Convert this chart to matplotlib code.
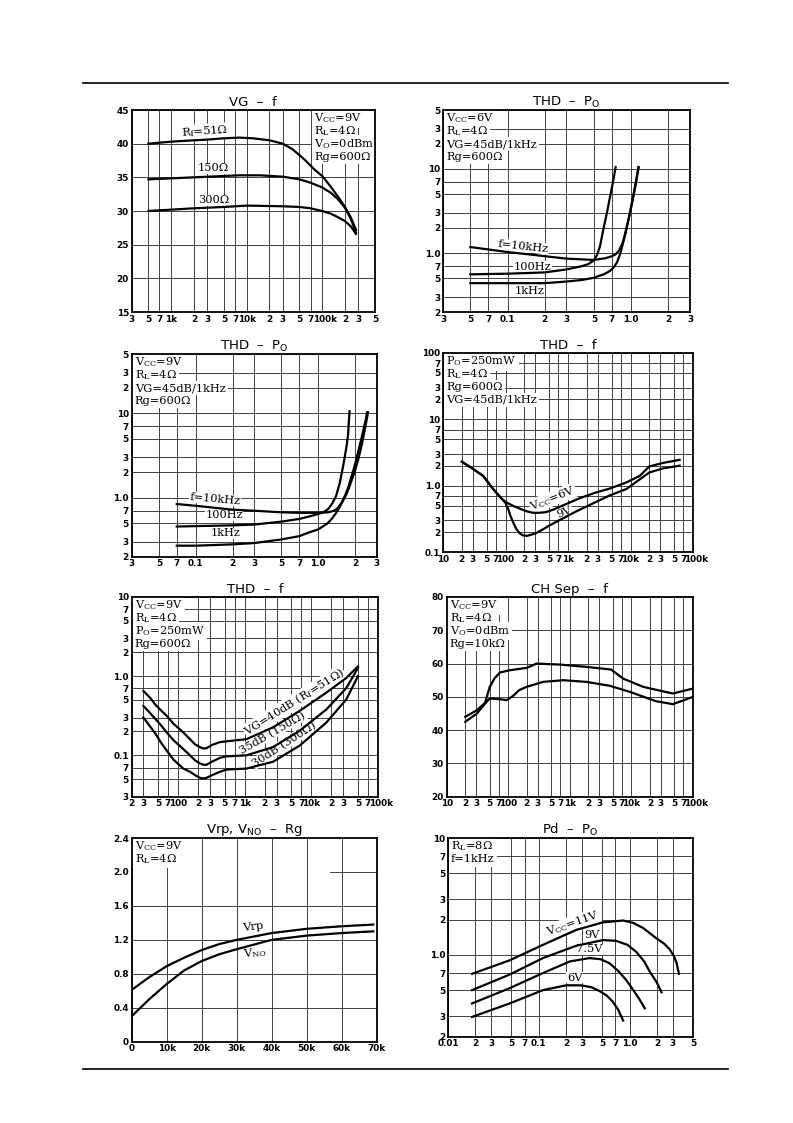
import matplotlib
matplotlib.use("Agg")
import matplotlib.pyplot as plt
from matplotlib.lines import Line2D
from matplotlib.transforms import ScaledTranslation

plt.rcParams['font.family'] = ['DejaVu Sans']
plt.rcParams['mathtext.fontset'] = 'dejavuserif'

W, H = 793, 1123

# ---------------- data ----------------
# VG - f
vg_f51 = [500, 1000, 2000, 3000, 5000, 8000, 12000, 20000, 30000, 40000, 50000, 60000, 80000,
          100000, 130000, 160000, 200000, 240000, 280000]
vg_51 = [40.0, 40.3, 40.5, 40.6, 40.8, 40.9, 40.8, 40.5, 40.0, 39.2, 38.3, 37.5, 36.1,
         35.2, 33.6, 32.2, 30.6, 29.0, 27.2]
vg_f150 = [500, 1000, 2000, 5000, 8000, 15000, 30000, 50000, 70000, 100000, 130000, 160000,
           200000, 240000, 280000]
vg_150 = [34.7, 34.85, 35.0, 35.2, 35.3, 35.3, 35.1, 34.7, 34.2, 33.5, 32.7, 31.8, 30.5, 28.8, 26.8]
vg_f300 = [500, 1000, 2000, 5000, 10000, 30000, 50000, 70000, 100000, 130000, 160000, 200000,
           240000, 280000]
vg_300 = [30.0, 30.2, 30.4, 30.6, 30.8, 30.7, 30.6, 30.4, 30.0, 29.6, 29.1, 28.5, 27.7, 26.6]

# THD - Po, VCC=6V
p6_10k = [0.05, 0.1, 0.2, 0.3, 0.5, 0.62, 0.7, 0.75, 0.8, 0.85, 0.9, 0.95, 1.0, 1.05, 1.1, 1.15]
t6_10k = [1.18, 1.03, 0.92, 0.86, 0.83, 0.87, 0.92, 0.97, 1.08, 1.3, 1.7, 2.45, 3.5, 5.0, 7.2, 10.5]
p6_100 = [0.05, 0.1, 0.2, 0.3, 0.4, 0.45, 0.5, 0.53, 0.56, 0.6, 0.64, 0.67, 0.71, 0.75]
t6_100 = [0.56, 0.57, 0.59, 0.64, 0.70, 0.74, 0.82, 0.95, 1.2, 2.0, 3.1, 4.4, 6.7, 10.5]
p6_1k = [0.05, 0.1, 0.2, 0.3, 0.4, 0.5, 0.6, 0.67, 0.72, 0.77, 0.82, 0.87, 0.91, 0.95,
         1.0, 1.05, 1.1, 1.15]
t6_1k = [0.44, 0.44, 0.44, 0.46, 0.48, 0.51, 0.56, 0.61, 0.67, 0.78, 1.0, 1.4, 1.9, 2.45,
         3.5, 5.0, 7.2, 10.5]

# THD - Po, VCC=9V
p9_10k = [0.07, 0.1, 0.2, 0.3, 0.5, 0.7, 1.0, 1.2, 1.35, 1.45, 1.55, 1.65, 1.75, 1.85,
          1.95, 2.05, 2.15, 2.25, 2.35, 2.45, 2.5]
t9_10k = [0.84, 0.80, 0.72, 0.70, 0.67, 0.66, 0.66, 0.67, 0.70, 0.76, 0.87, 1.05, 1.3, 1.7,
          2.2, 2.9, 3.8, 5.0, 6.6, 8.5, 10.2]
p9_100 = [0.07, 0.1, 0.2, 0.3, 0.5, 0.7, 0.85, 1.0, 1.1, 1.2, 1.3, 1.4, 1.5, 1.6, 1.7, 1.75, 1.8]
t9_100 = [0.455, 0.46, 0.47, 0.48, 0.52, 0.56, 0.60, 0.64, 0.67, 0.73, 0.85, 1.05, 1.5, 2.4,
          4.0, 5.5, 10.5]
p9_1k = [0.07, 0.1, 0.2, 0.3, 0.5, 0.7, 0.85, 1.0, 1.2, 1.3, 1.4, 1.5, 1.6, 1.7, 1.8, 1.9,
         2.0, 2.1, 2.2, 2.3, 2.4, 2.55]
t9_1k = [0.27, 0.27, 0.28, 0.29, 0.32, 0.35, 0.39, 0.42, 0.50, 0.57, 0.66, 0.78, 0.93, 1.1,
         1.36, 1.7, 2.1, 2.7, 3.5, 4.7, 6.4, 10.2]

# THD - f, Po=250mW
thf_f6 = [20, 30, 44, 60, 70, 85, 100, 130, 170, 220, 275, 350, 450, 600, 940, 1500, 2800,
          4600, 8600, 14000, 20000, 33000, 61000]
thf_6 = [2.3, 1.8, 1.4, 0.95, 0.8, 0.65, 0.57, 0.5, 0.45, 0.41, 0.39, 0.39, 0.40, 0.44, 0.53,
         0.64, 0.79, 0.9, 1.12, 1.4, 1.95, 2.2, 2.45]
thf_f9 = [20, 30, 44, 60, 70, 85, 100, 110, 120, 135, 150, 170, 190, 220, 245, 300, 400, 500,
          1360, 4600, 8600, 20000, 33000, 61000]
thf_9 = [2.3, 1.8, 1.4, 0.95, 0.8, 0.65, 0.55, 0.45, 0.35, 0.27, 0.22, 0.19, 0.178, 0.175,
         0.18, 0.19, 0.22, 0.25, 0.41, 0.71, 0.89, 1.58, 1.82, 2.0]

# THD - f, VCC=9V, three gains
tg_f = [30, 38, 45, 55, 67, 85, 119, 150, 180, 211, 240, 266, 320, 424, 530, 1060, 2660,
        6700, 16800, 33500, 50000]
tg_40 = [0.65, 0.53, 0.44, 0.37, 0.316, 0.25, 0.195, 0.16, 0.137, 0.127, 0.122, 0.123, 0.135,
         0.147, 0.15, 0.16, 0.226, 0.365, 0.62, 0.95, 1.33]
tg_35 = [0.42, 0.34, 0.29, 0.24, 0.195, 0.155, 0.12, 0.10, 0.086, 0.079, 0.076, 0.076, 0.083,
         0.093, 0.097, 0.10, 0.127, 0.205, 0.38, 0.71, 1.27]
tg_30 = [0.30, 0.23, 0.19, 0.145, 0.115, 0.088, 0.068, 0.062, 0.056, 0.052, 0.051, 0.052, 0.056,
         0.062, 0.066, 0.068, 0.083, 0.133, 0.26, 0.51, 1.0]

# CH Sep - f
cs_fa = [20, 31, 42, 50, 60, 73, 106, 198, 289, 685, 1860, 4700, 7300, 15600, 30000, 47000, 100000]
cs_a = [44, 46, 48.2, 53, 55.6, 57.3, 58, 58.7, 60, 59.7, 59, 58.2, 55.5, 53, 51.8, 51, 52.5]
cs_fb = [20, 31, 42, 50, 73, 94, 120, 150, 198, 368, 780, 1860, 4500, 9400, 25000, 47000, 100000]
cs_b = [42.5, 45, 48, 49.5, 49.3, 49.0, 50.3, 52.0, 53, 54.5, 55, 54.5, 53.3, 51.5, 48.7, 47.8, 50]

# Vrp, VNO - Rg
rg_k = [0, 5, 10, 15, 20, 25, 30, 40, 50, 60, 69]
vrp = [0.61, 0.76, 0.89, 0.99, 1.08, 1.15, 1.20, 1.28, 1.33, 1.36, 1.38]
vno = [0.30, 0.50, 0.68, 0.84, 0.95, 1.03, 1.09, 1.20, 1.25, 1.28, 1.30]

# Pd - Po
pd_p11 = [0.0184, 0.0478, 0.111, 0.26, 0.51, 0.85, 1.1, 1.41, 1.97, 2.4, 2.76, 3.1, 3.3, 3.5]
pd_11 = [0.69, 0.90, 1.22, 1.64, 1.9, 1.97, 1.88, 1.70, 1.39, 1.25, 1.12, 0.97, 0.85, 0.69]
pd_p9 = [0.0184, 0.0478, 0.111, 0.26, 0.51, 0.71, 0.95, 1.19, 1.45, 1.67, 2.0, 2.25]
pd_9 = [0.50, 0.68, 0.94, 1.2, 1.34, 1.32, 1.22, 1.06, 0.88, 0.72, 0.58, 0.48]
pd_p75 = [0.0184, 0.0478, 0.111, 0.22, 0.36, 0.48, 0.6, 0.75, 0.92, 1.1, 1.28, 1.47]
pd_75 = [0.385, 0.52, 0.70, 0.88, 0.94, 0.92, 0.85, 0.73, 0.61, 0.50, 0.42, 0.35]
pd_p6 = [0.0184, 0.0478, 0.111, 0.2, 0.29, 0.38, 0.47, 0.56, 0.65, 0.75, 0.85]
pd_6 = [0.295, 0.385, 0.5, 0.55, 0.55, 0.53, 0.49, 0.45, 0.40, 0.34, 0.275]

# tick positions / labels
f_3_500k = [300, 500, 700, 1e3, 2e3, 3e3, 5e3, 7e3, 1e4, 2e4, 3e4, 5e4, 7e4, 1e5, 2e5, 3e5, 5e5]
f_3_500k_lab = ['3', '5', '7', '1k', '2', '3', '5', '7', '10k', '2', '3', '5', '7', '100k', '2', '3', '5']
po_ticks = [0.03, 0.05, 0.07, 0.1, 0.2, 0.3, 0.5, 0.7, 1, 2, 3]
po_lab = ['3', '5', '7', '0.1', '2', '3', '5', '7', '1.0', '2', '3']
thd_ticks = [0.2, 0.3, 0.5, 0.7, 1, 2, 3, 5, 7, 10, 20, 30, 50]
thd_lab = ['2', '3', '5', '7', '1.0', '2', '3', '5', '7', '10', '2', '3', '5']
f_10_100k = [10, 20, 30, 50, 70, 100, 200, 300, 500, 700, 1e3, 2e3, 3e3, 5e3, 7e3, 1e4, 2e4, 3e4, 5e4, 7e4, 1e5]
f_10_100k_lab = ['10', '2', '3', '5', '7', '100', '2', '3', '5', '7', '1k', '2', '3', '5', '7', '10k',
                 '2', '3', '5', '7', '100k']
thd2_ticks = [0.1, 0.2, 0.3, 0.5, 0.7, 1, 2, 3, 5, 7, 10, 20, 30, 50, 70, 100]
thd2_lab = ['0.1', '2', '3', '5', '7', '1.0', '2', '3', '5', '7', '10', '2', '3', '5', '7', '100']
thd3_ticks = [0.03, 0.05, 0.07, 0.1, 0.2, 0.3, 0.5, 0.7, 1, 2, 3, 5, 7, 10]
thd3_lab = ['3', '5', '7', '0.1', '2', '3', '5', '7', '1.0', '2', '3', '5', '7', '10']
pdx_ticks = [0.01, 0.02, 0.03, 0.05, 0.07, 0.1, 0.2, 0.3, 0.5, 0.7, 1, 2, 3, 5]
pdx_lab = ['0.01', '2', '3', '5', '7', '0.1', '2', '3', '5', '7', '1.0', '2', '3', '5']
pdy_ticks = [0.2, 0.3, 0.5, 0.7, 1, 2, 3, 5, 7, 10]
pdy_lab = ['2', '3', '5', '7', '1.0', '2', '3', '5', '7', '10']

fig = plt.figure(figsize=(W / 100, H / 100), dpi=100)


def make_ax(l, t, r, b):
    ax = fig.add_axes([l / W, 1 - b / H, (r - l) / W, (b - t) / H])
    ax.hpx = b - t
    return ax


def setup(ax, title, xlim, xt, xl, ylim, yt, yl, xlog=True, ylog=True):
    if xlog:
        ax.set_xscale('log')
    if ylog:
        ax.set_yscale('log')
    ax.set_xlim(xlim)
    ax.set_ylim(ylim)
    ax.set_xticks(xt, xl)
    ax.set_yticks(yt, yl)
    ax.minorticks_off()
    ax.tick_params(length=0, pad=2, labelsize=6.4)
    for lab in ax.get_xticklabels() + ax.get_yticklabels():
        lab.set_fontweight('bold')
    # "100k" sits just right of the "7" on the datasheet
    for lab, s in zip(ax.get_xticklabels(), xl):
        if s == '100k':
            lab.set_transform(lab.get_transform()
                              + ScaledTranslation(3 / 100, 0, fig.dpi_scale_trans))
    ax.grid(True, color='0.25', lw=0.7)
    for s in ax.spines.values():
        s.set_linewidth(1.3)
    ax.set_title(title, fontsize=9.5, pad=3)


def note(ax, lines, x=0.012, first_px=11.5, step_px=12.8):
    # condition block, one line at a time (datasheet spacing)
    for i, s in enumerate(lines):
        y = 1 - (first_px + i * step_px) / ax.hpx
        ax.text(x, y, s, transform=ax.transAxes, ha='left', va='baseline',
                fontsize=8.2, family='DejaVu Serif',
                bbox=dict(fc='white', ec='none', pad=1.6), zorder=2.4)


def label(ax, x, y, s, rot=0):
    ax.text(x, y, s, transform=ax.transAxes, ha='center', va='center', rotation=rot,
            fontsize=8.2, family='DejaVu Serif',
            bbox=dict(fc='white', ec='none', pad=0.4), zorder=2.4)


lw = 1.6

# 1. VG - f
ax = make_ax(131.7, 110, 375, 312)
setup(ax, 'VG  –  f', (300, 5e5), f_3_500k, f_3_500k_lab, (15, 45),
      [15, 20, 25, 30, 35, 40, 45], ['15', '20', '25', '30', '35', '40', '45'], ylog=False)
ax.plot(vg_f51, vg_51, 'k', lw=lw, zorder=3)
ax.plot(vg_f150, vg_150, 'k', lw=lw, zorder=3)
ax.plot(vg_f300, vg_300, 'k', lw=lw, zorder=3)
label(ax, 0.30, 0.895, r'R$_\mathrm{f}$=51Ω', rot=4)
label(ax, 0.336, 0.711, '150Ω')
label(ax, 0.336, 0.554, '300Ω')
note(ax, [r'V$_\mathrm{CC}$=9V', r'R$_\mathrm{L}$=4Ω', r'V$_\mathrm{O}$=0dBm', 'Rg=600Ω'], x=0.75)

# 2. THD - Po (6V)
ax = make_ax(443, 110, 690, 312)
setup(ax, r'THD  –  P$_\mathsf{O}$', (0.03, 3), po_ticks, po_lab, (0.2, 50), thd_ticks, thd_lab)
ax.plot(p6_10k, t6_10k, 'k', lw=lw, zorder=3)
ax.plot(p6_100, t6_100, 'k', lw=lw, zorder=3)
ax.plot(p6_1k, t6_1k, 'k', lw=lw, zorder=3)
note(ax, [r'V$_\mathrm{CC}$=6V', r'R$_\mathrm{L}$=4Ω', 'VG=45dB/1kHz', 'Rg=600Ω'])
label(ax, 0.324, 0.325, 'f=10kHz', rot=-6)
label(ax, 0.362, 0.223, '100Hz')
label(ax, 0.351, 0.104, '1kHz')

# 3. THD - Po (9V)
ax = make_ax(131.7, 354, 376.7, 556.7)
setup(ax, r'THD  –  P$_\mathsf{O}$', (0.03, 3), po_ticks, po_lab, (0.2, 50), thd_ticks, thd_lab)
ax.plot(p9_10k, t9_10k, 'k', lw=lw, zorder=3)
ax.plot(p9_100, t9_100, 'k', lw=lw, zorder=3)
ax.plot(p9_1k, t9_1k, 'k', lw=lw, zorder=3)
note(ax, [r'V$_\mathrm{CC}$=9V', r'R$_\mathrm{L}$=4Ω', 'VG=45dB/1kHz', 'Rg=600Ω'])
label(ax, 0.340, 0.285, 'f=10kHz', rot=-5)
label(ax, 0.377, 0.206, '100Hz')
label(ax, 0.385, 0.115, '1kHz')

# 4. THD - f (Po=250mW)
ax = make_ax(443, 353, 693, 552)
setup(ax, 'THD  –  f', (10, 1e5), f_10_100k, f_10_100k_lab, (0.1, 100), thd2_ticks, thd2_lab)
ax.plot(thf_f6, thf_6, 'k', lw=lw, zorder=3)
ax.plot(thf_f9, thf_9, 'k', lw=lw, zorder=3)
note(ax, [r'P$_\mathrm{O}$=250mW', r'R$_\mathrm{L}$=4Ω', 'Rg=600Ω', 'VG=45dB/1kHz'])
label(ax, 0.44, 0.27, r'V$_\mathrm{CC}$=6V', rot=22)
label(ax, 0.487, 0.20, '9V', rot=22)

# 5. THD - f (VCC=9V)
ax = make_ax(131.7, 597, 378, 796.7)
setup(ax, 'THD  –  f', (20, 1e5), f_10_100k[1:], f_10_100k_lab[1:],
      (0.03, 10), thd3_ticks, thd3_lab)
ax.plot(tg_f, tg_40, 'k', lw=lw, zorder=3)
ax.plot(tg_f, tg_35, 'k', lw=lw, zorder=3)
ax.plot(tg_f, tg_30, 'k', lw=lw, zorder=3)
note(ax, [r'V$_\mathrm{CC}$=9V', r'R$_\mathrm{L}$=4Ω', r'P$_\mathrm{O}$=250mW', 'Rg=600Ω'])
label(ax, 0.66, 0.475, r'VG=40dB (R$_\mathrm{f}$=51Ω)', rot=32)
label(ax, 0.572, 0.32, '35dB (150Ω)', rot=30)
label(ax, 0.62, 0.262, '30dB (300Ω)', rot=33)

# 6. CH Sep - f
ax = make_ax(446.7, 597, 693, 796.7)
setup(ax, 'CH Sep  –  f', (10, 1e5), f_10_100k, f_10_100k_lab, (20, 80),
      [20, 30, 40, 50, 60, 70, 80], ['20', '30', '40', '50', '60', '70', '80'], ylog=False)
ax.plot(cs_fa, cs_a, 'k', lw=lw, zorder=3)
ax.plot(cs_fb, cs_b, 'k', lw=lw, zorder=3)
note(ax, [r'V$_\mathrm{CC}$=9V', r'R$_\mathrm{L}$=4Ω', r'V$_\mathrm{O}$=0dBm', 'Rg=10kΩ'])

# 7. Vrp, VNO - Rg
ax = make_ax(131.7, 838, 376.7, 1041.7)
setup(ax, r'Vrp, V$_\mathsf{NO}$  –  Rg', (0, 70), list(range(0, 71, 10)),
      ['0', '10k', '20k', '30k', '40k', '50k', '60k', '70k'], (0, 2.4),
      [0, 0.4, 0.8, 1.2, 1.6, 2.0, 2.4], ['0', '0.4', '0.8', '1.2', '1.6', '2.0', '2.4'],
      xlog=False, ylog=False)
ax.grid(False, axis='y')
for yv in [0.4, 0.8, 1.2, 1.6]:
    ax.axhline(yv, color='0.25', lw=0.7, zorder=1)
ax.axhline(2.0, xmin=0.81, color='0.25', lw=0.7, zorder=1)
ax.plot(rg_k, vrp, 'k', lw=lw, zorder=3)
ax.plot(rg_k, vno, 'k', lw=lw, zorder=3)
note(ax, [r'V$_\mathrm{CC}$=9V', r'R$_\mathrm{L}$=4Ω'])
ax.text(34.8, 1.35, 'Vrp', ha='center', va='center', fontsize=8.2, family='DejaVu Serif',
        rotation=6, bbox=dict(fc='white', ec='none', pad=0.4), zorder=2.4)
ax.text(35.2, 1.05, r'V$_\mathrm{NO}$', ha='center', va='center', fontsize=8.2, family='DejaVu Serif',
        rotation=6, bbox=dict(fc='white', ec='none', pad=0.4), zorder=2.4)

# 8. Pd - Po
ax = make_ax(448, 838, 693, 1036.7)
setup(ax, r'Pd  –  P$_\mathsf{O}$', (0.01, 5), pdx_ticks, pdx_lab, (0.2, 10), pdy_ticks, pdy_lab)
ax.plot(pd_p11, pd_11, 'k', lw=lw, zorder=3)
ax.plot(pd_p9, pd_9, 'k', lw=lw, zorder=3)
ax.plot(pd_p75, pd_75, 'k', lw=lw, zorder=3)
ax.plot(pd_p6, pd_6, 'k', lw=lw, zorder=3)
note(ax, [r'R$_\mathrm{L}$=8Ω', 'f=1kHz'])
label(ax, 0.51, 0.57, r'V$_\mathrm{CC}$=11V', rot=19)
label(ax, 0.589, 0.513, '9V')
label(ax, 0.578, 0.44, '7.5V')
label(ax, 0.517, 0.297, '6V')

# page rules
fig.add_artist(Line2D([83 / W, 728 / W], [1 - 83 / H, 1 - 83 / H], color='k', lw=1.2))
fig.add_artist(Line2D([83 / W, 728 / W], [1 - 1069 / H, 1 - 1069 / H], color='k', lw=1.2))

fig.savefig('out.png', dpi=100)
